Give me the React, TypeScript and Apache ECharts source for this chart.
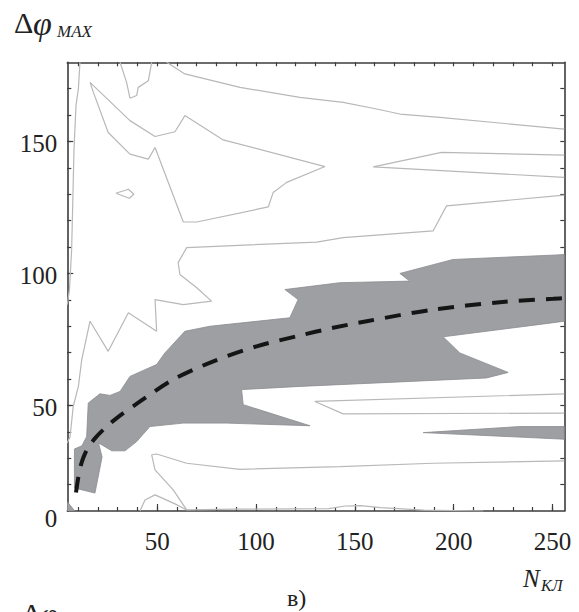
import React, { useEffect, useRef } from "react";
import * as echarts from "echarts";

// ---- axes ----
const X_MIN = 4.5;
const X_MAX = 256;
const Y_MIN = 10;
const Y_MAX = 180;
const xLabelValues = [50, 100, 150, 200, 250];
const xTickValues = [10, 20, 30, 40, 50, 60, 70, 80, 90, 100, 110, 120, 130, 140, 150, 160, 170, 180, 190, 200, 210, 220, 230, 240, 250];
const yLabelValues = [10, 50, 100, 150];
const yLabelTexts = ["0", "50", "100", "150"];
const yMajorTicks = [50, 100, 150];
const yTickValues = [20, 30, 40, 50, 60, 70, 80, 90, 100, 110, 120, 130, 140, 150, 160, 170];

// ---- filled (gray) regions ----
const grayMain: number[][] = [
  [8.1, 33.5], [8.1, 18.7], [18.5, 16.8], [22.1, 30.5], [20.3, 35.8], [27.0, 32.8],
  [33.7, 32.8], [39.6, 36.3], [46.3, 42.0], [63.2, 43.3], [85.1, 43.3], [127.3, 42.3],
  [93.5, 50.3], [92.7, 56.0], [122.2, 57.2], [216.6, 60.4], [227.6, 62.5], [203.1, 69.9],
  [194.7, 76.0], [242.7, 80.6], [256, 81.9], [256, 107.2], [252, 107.0], [199.7, 105.3],
  [172.8, 100.0], [177.8, 97.1], [142.4, 96.5], [114.6, 93.9], [121.3, 90.1], [117.1, 83.2],
  [76.7, 80.0], [64.0, 78.1], [53.9, 69.9], [49.7, 65.5], [36.2, 61.0], [31.2, 55.3],
  [26.1, 53.8], [21.0, 54.4], [15.1, 50.9], [14.3, 38.2], [11.9, 34.7],
];
const grayCorner: number[][] = [[4.5, 10], [4.5, 13.5], [8.3, 10]];
const grayRight: number[][] = [[184.6, 39.7], [233.5, 42.0], [256, 42.0], [256, 37.2]];
const grayRegions = [grayMain, grayCorner, grayRight];

// ---- contour lines ----
const lineA = [[10.9, 180], [10.1, 169.9], [8.9, 163.6], [7.9, 147.1], [6.7, 109.1], [5.6, 93.9], [4.5, 88.2]];
const lineB = [
  [16, 172.4], [36.2, 157.9], [48.9, 151.9], [59, 153.7], [64, 159.8], [83.4, 150.6], [134.9, 140.5],
  [115.5, 134.5], [108.7, 130.7], [106.2, 125.2], [70, 119.5], [63.2, 119.5], [48.9, 147.7],
  [45.5, 143.3], [36.2, 145.2], [25.2, 153.4], [17.7, 168.6], [16, 172.4],
];
const lineC = [[31.2, 180], [34.5, 172.4], [36.2, 166.4], [39.6, 167.4], [40.4, 170.5], [45.5, 173], [47.2, 180]];
const lineD = [[54.8, 180], [64, 175.6], [91.9, 170.5], [122.2, 166.7], [144.1, 164.8], [161, 162.3], [172.8, 160.4], [193, 159.1], [256, 154.7]];
const lineE = [[256, 144.8], [193.9, 145.9], [159.3, 140.4], [256, 136.4]];
const lineF = [[29.1, 130.4], [35.4, 131.9], [38.2, 130], [35.9, 128.5], [29.1, 130.4]];
const lineG = [
  [4.5, 35.8], [5.9, 38.2], [7.5, 49.6], [10.1, 57.2], [11.8, 67.3], [16, 81.9], [25.2, 70.5],
  [35.4, 85.1], [49.7, 78.1], [48.9, 90.1], [63.2, 88.2], [77.5, 89.5], [70, 94.6], [61.5, 99.6],
  [60.6, 104.1], [64.9, 109.8], [130.7, 111.9], [144.1, 113.6], [189.6, 116.1], [196.4, 125.6], [256, 129.7],
];
const lineH = [[64.9, 10.4], [58.1, 18], [48.9, 25.6], [47.2, 31.3], [49.7, 31.6], [64.9, 28.1], [91.9, 25.8], [142.4, 26.8], [189.6, 28.1], [256, 29]];
const lineI = [[41.3, 10], [43.8, 14.2], [48.9, 16.1], [59, 12.7], [64.9, 10.4]];
const lineJ = [[256, 54.4], [129.8, 51.5], [144.1, 46.8], [256, 47.1]];
const lineBottom = [[64.9, 10.4], [90, 10.7], [137, 10.9], [145, 11.9], [153, 12], [163, 11.3], [185, 10.3], [215, 10]];
const contourLines = [lineA, lineB, lineC, lineD, lineE, lineF, lineG, lineH, lineI, lineJ, lineBottom];

// ---- dashed fit curve ----
const fitCurve = [
  [8.9, 17], [9.9, 22], [10.9, 26], [12.5, 30], [15, 34], [18.5, 37.5], [23, 41], [29.5, 45.2],
  [41.3, 51.5], [58.1, 59.8], [78.4, 66.7], [100.3, 72.4], [122.2, 76.5], [139, 79.4], [156, 81.9],
  [189.6, 86.3], [223.4, 89.1], [250.3, 90.4], [256, 90.6],
];

const AXIS_COLOR = "#3c3c3c";
const SERIF = "'Times New Roman', 'Liberation Serif', serif";

export default function App() {
  const ref = useRef<HTMLDivElement>(null);
  useEffect(() => {
    if (!ref.current) return;
    const chart = echarts.init(ref.current, null, { renderer: "svg" });
    const axisLine = { show: true, lineStyle: { color: AXIS_COLOR, width: 1.6 } };
    const tickStyle = { color: AXIS_COLOR, width: 1.2 };
    const labelStyle = { fontFamily: SERIF, fontSize: 25, color: "#222" };
    chart.setOption({
      animation: false,
      backgroundColor: "#fff",
      textStyle: { fontFamily: SERIF },
      grid: { left: 67.3, right: 14.7, top: 62.3, bottom: 101, containLabel: false, outerBoundsMode: "none" },
      xAxis: [
        {
          type: "value", position: "bottom", min: X_MIN, max: X_MAX,
          axisLine, splitLine: { show: false },
          axisTick: { show: true, inside: true, length: 4, customValues: xTickValues, lineStyle: tickStyle },
          axisLabel: { show: true, customValues: xLabelValues, margin: 18, ...labelStyle },
        },
        {
          type: "value", position: "bottom", min: X_MIN, max: X_MAX,
          axisLine: { show: false }, splitLine: { show: false },
          axisTick: { show: true, inside: true, length: 7, customValues: xLabelValues, lineStyle: tickStyle },
          axisLabel: { show: false },
        },
        {
          type: "value", position: "top", min: X_MIN, max: X_MAX,
          axisLine, splitLine: { show: false },
          axisTick: { show: true, inside: true, length: 4, customValues: xTickValues, lineStyle: tickStyle },
          axisLabel: { show: false },
        },
      ],
      yAxis: [
        {
          type: "value", position: "left", min: Y_MIN, max: Y_MAX,
          axisLine, splitLine: { show: false },
          axisTick: { show: true, inside: true, length: 4, customValues: yTickValues, lineStyle: tickStyle },
          axisLabel: {
            show: true, customValues: yLabelValues, margin: 10, ...labelStyle,
            padding: [5, 0, 0, 0],
            formatter: (v: number) => {
              const i = yLabelValues.indexOf(v);
              return i === 0 ? "{z|" + yLabelTexts[i] + "}" : yLabelTexts[i] ?? String(v);
            },
            rich: { z: { fontFamily: SERIF, fontSize: 25, color: "#222", padding: [10, 0, 0, 0] } },
          },
        },
        {
          type: "value", position: "left", min: Y_MIN, max: Y_MAX,
          axisLine: { show: false }, splitLine: { show: false },
          axisTick: { show: true, inside: true, length: 6, customValues: yMajorTicks, lineStyle: tickStyle },
          axisLabel: { show: false },
        },
        {
          type: "value", position: "right", min: Y_MIN, max: Y_MAX,
          axisLine, splitLine: { show: false },
          axisTick: { show: true, inside: true, length: 4, customValues: yTickValues, lineStyle: tickStyle },
          axisLabel: { show: false },
        },
      ],
      series: [
        {
          type: "custom",
          xAxisIndex: 0, yAxisIndex: 0,
          silent: true,
          z: 1,
          clip: true,
          data: grayRegions.map((_, i) => [i]),
          renderItem: (params: any, api: any) => {
            const poly = grayRegions[params.dataIndex];
            return {
              type: "polygon",
              shape: { points: poly.map((p) => api.coord(p)) },
              style: { fill: "#9e9fa3", stroke: "#8a8b8f", lineWidth: 0.8 },
            };
          },
        },
        ...contourLines.map((pts) => ({
          type: "line",
          xAxisIndex: 0, yAxisIndex: 0,
          data: pts,
          showSymbol: false,
          symbol: "none",
          silent: true,
          z: 2,
          lineStyle: { color: "#b8b8b8", width: 1.2 },
        })),
        {
          type: "line",
          xAxisIndex: 0, yAxisIndex: 0,
          data: fitCurve,
          smooth: 0.3,
          showSymbol: false,
          symbol: "none",
          silent: true,
          z: 3,
          lineStyle: { color: "#151515", width: 4, type: [16, 11] },
        },
      ],
      graphic: [
        { type: "text", x: 14, y: 22.5, style: { text: "Δ", fontFamily: SERIF, fontSize: 30, fill: "#222", verticalAlign: "middle" } },
        { type: "text", x: 33, y: 23.5, style: { text: "φ", fontFamily: SERIF, fontStyle: "italic", fontSize: 34, fill: "#222", verticalAlign: "middle" } },
        { type: "text", x: 57, y: 31, style: { text: "MAX", fontFamily: SERIF, fontStyle: "italic", fontSize: 17, fill: "#222", verticalAlign: "middle" } },
        { type: "text", x: 523, y: 578, style: { text: "N", fontFamily: SERIF, fontStyle: "italic", fontSize: 25, fill: "#222", verticalAlign: "middle" } },
        { type: "text", x: 541, y: 585, style: { text: "КЛ", fontFamily: SERIF, fontStyle: "italic", fontSize: 16, fill: "#222", verticalAlign: "middle" } },
        { type: "text", x: 287, y: 598, style: { text: "в)", fontFamily: SERIF, fontSize: 24, fill: "#222", verticalAlign: "middle" } },
        { type: "text", x: 22, y: 613, style: { text: "Δφ", fontFamily: SERIF, fontSize: 30, fill: "#222", verticalAlign: "middle" } },
      ],
    });
    return () => chart.dispose();
  }, []);
  return <div ref={ref} style={{ position: "absolute", left: 0, top: 0, width: 579, height: 612, background: "#fff" }} />;
}
